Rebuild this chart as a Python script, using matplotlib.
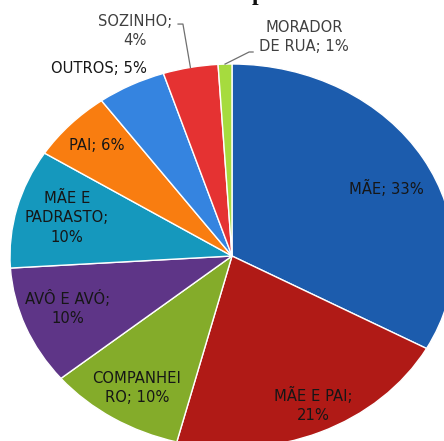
#!/usr/bin/env python3
# -*- coding: utf-8 -*-
"""Pie chart: com quem mora (reconstrucao do grafico de referencia)."""

import numpy as np
import matplotlib
matplotlib.use('Agg')
import matplotlib.pyplot as plt

# Data (clockwise from 12 o'clock)
categories = ['MÃE', 'MÃE E PAI', 'COMPANHEIRO', 'AVÔ E AVÓ', 'MÃE E PADRASTO',
              'PAI', 'OUTROS', 'SOZINHO', 'MORADOR DE RUA']
values = [33, 21, 10, 10, 10, 6, 5, 4, 1]
label_texts = ['MÃE; 33%', 'MÃE E PAI;\n21%', 'COMPANHEI\nRO; 10%', 'AVÔ E AVÓ;\n10%',
               'MÃE E\nPADRASTO;\n10%', 'PAI; 6%', 'OUTROS; 5%', 'SOZINHO;\n4%',
               'MORADOR\nDE RUA; 1%']

colors = ['#1c5cad', '#b01a16', '#84ac2a', '#5e3587', '#1598bd',
          '#f97d10', '#3584e0', '#e53232', '#a6db3e']

# label anchor positions (data units of the pie, radius = 1)
label_pos = [(0.694, 0.354), (0.365, -0.776), (-0.428, -0.688), (-0.739, -0.271),
             (-0.743, 0.198), (-0.608, 0.578), (-0.599, 0.974), (-0.437, 1.172),
             (0.324, 1.141)]
# leader lines: (index, elbow point, end point)
leaders = [(7, (-0.221, 1.208), (-0.243, 1.208)),
           (8, (0.077, 1.0625), (0.095, 1.0625))]

fig = plt.figure(figsize=(4.44, 4.41), dpi=100)
ax = fig.add_axes([0, 0, 1, 1])

wedges, _ = ax.pie(values, colors=colors, startangle=90, counterclock=False,
                   wedgeprops=dict(edgecolor='white', linewidth=1.0))

font = 'DejaVu Sans'
for i, (txt, (x, y)) in enumerate(zip(label_texts, label_pos)):
    outside = i >= 7
    ax.text(x, y, txt, ha='center', va='center', fontsize=10.6, family=font,
            color='#404040' if outside else '#161616',
            linespacing=1.4)

for idx, elbow, end in leaders:
    w = wedges[idx]
    mid = np.deg2rad((w.theta1 + w.theta2) / 2)
    x0, y0 = np.cos(mid), np.sin(mid)
    ax.plot([x0, elbow[0], end[0]], [y0, elbow[1], end[1]],
            color='#6f6f6f', linewidth=0.9)

# stretched ellipse like the reference
ax.set_aspect('auto')
ax.set_xlim(-232 / 222, (444 - 232) / 222)
ax.set_ylim(-185 / 192, 256 / 192)
ax.axis('off')

# title cut off at the top of the image
fig.text(0.566, 1.0, 'p', ha='left', va='baseline', fontsize=17,
         family='Liberation Serif', fontweight='bold', color='#111111')

plt.savefig('out.png', dpi=100, facecolor='white')
plt.close()
